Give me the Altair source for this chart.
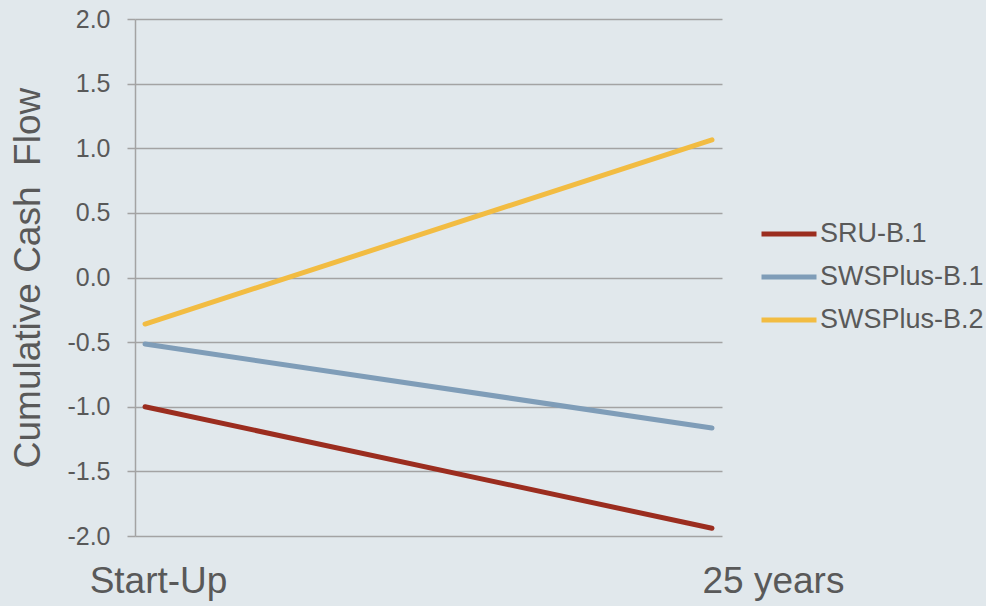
import altair as alt
import pandas as pd

periods = ["Start-Up", "25 years"]
series = ["SRU-B.1", "SWSPlus-B.1", "SWSPlus-B.2"]
sru_b1 = [-1.0, -1.94]
swsplus_b1 = [-0.515, -1.165]
swsplus_b2 = [-0.36, 1.065]
colors = ["#9b2d1f", "#7f9db8", "#f2bc42"]
y_ticks = [-2.0, -1.5, -1.0, -0.5, 0.0, 0.5, 1.0, 1.5, 2.0]

rows = []
for name, vals in zip(series, [sru_b1, swsplus_b1, swsplus_b2]):
    for p, v in zip(periods, vals):
        rows.append({"period": p, "series": name, "value": v})
df = pd.DataFrame(rows)

FONT = "Liberation Sans"
TXT = "#595959"
GRID = "#a3a3a3"

chart = alt.Chart(df).mark_line(strokeWidth=5, strokeCap="round").encode(
    x=alt.X(
        "period:O",
        sort=periods,
        scale=alt.Scale(type="point", padding=0.0177),
        axis=alt.Axis(
            title=None, domain=False, ticks=False, grid=False, labelAngle=0,
            labelFont=FONT, labelFontSize=37, labelColor=TXT, labelPadding=27,
            labelLimit=0,
            labelOffset={"condition": {"test": "datum.value === 'Start-Up'", "value": 13}, "value": 61},
        ),
    ),
    y=alt.Y(
        "value:Q",
        scale=alt.Scale(domain=[-2, 2], nice=False, zero=False),
        axis=alt.Axis(
            title="Cumulative Cash\u00a0 Flow", values=y_ticks,
            labelExpr="(datum.value < 0 ? '-' : '') + format(abs(datum.value), '.1f')",
            labelFont=FONT, labelFontSize=25, labelColor=TXT, labelPadding=17,
            titleFont=FONT, titleFontSize=37, titleColor=TXT, titleFontWeight="normal",
            titlePadding=19,
            domainColor=GRID, domainWidth=1.5, gridColor=GRID, gridWidth=1.5,
            tickColor=GRID, tickWidth=1.5, tickSize=8,
        ),
    ),
    color=alt.Color(
        "series:N", sort=series,
        scale=alt.Scale(domain=series, range=colors),
        legend=alt.Legend(
            title=None, orient="none", legendX=624, legendY=185, padding=0,
            symbolType="stroke", symbolSize=3025, symbolStrokeWidth=5,
            labelFont=FONT, labelFontSize=27, labelColor=TXT, labelOffset=1,
            labelLimit=0, rowPadding=-10,
        ),
    ),
).properties(
    width=587, height=517,
    autosize=alt.AutoSizeParams(type="none"),
    padding={"left": 135, "top": 19, "right": 264, "bottom": 70},
    background="#e1e8ec",
).configure_view(strokeWidth=0)

chart.save("out.html", embed_options={"renderer": "svg", "actions": False})
